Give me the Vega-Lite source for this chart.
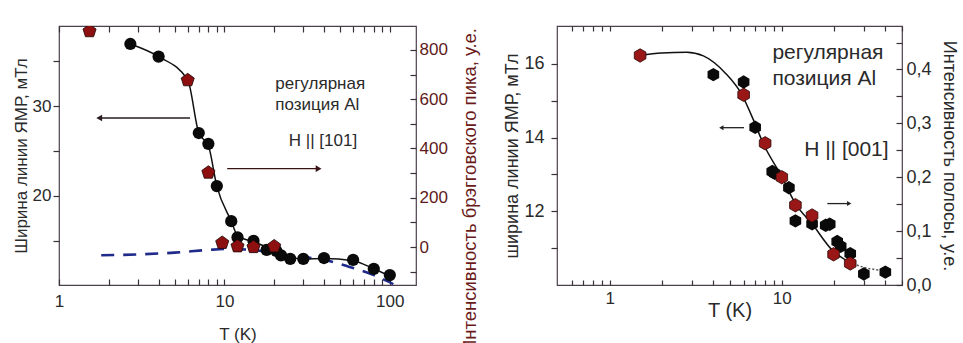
{
  "$schema": "https://vega.github.io/schema/vega-lite/v6.json",
  "autosize": {"type": "pad"},
  "padding": {"left": 11, "top": 24, "right": 0, "bottom": 0},
  "background": "white",
  "bounds": "flush",
  "spacing": 141,
  "config": {
    "font": "Liberation Sans",
    "view": {"stroke": "#4d404d", "strokeWidth": 1.2},
    "scale": {"zero": false},
    "axis": {
      "grid": false,
      "domain": false,
      "labelFont": "Liberation Sans",
      "titleFont": "Liberation Sans",
      "labelFontSize": 17,
      "titleFontSize": 17,
      "titleFontWeight": "normal",
      "labelColor": "#2a2a2a",
      "titleColor": "#2a2a2a",
      "tickColor": "#3a303a",
      "tickWidth": 1.2,
      "labelOverlap": false,
      "labelFlush": false
    }
  },
  "datasets": {
    "left_circles": [
      {"T": 2.7, "W": 36.9}, {"T": 4.0, "W": 35.5}, {"T": 7.0, "W": 27.0},
      {"T": 8.0, "W": 25.8}, {"T": 9.0, "W": 21.1}, {"T": 11.0, "W": 17.2},
      {"T": 12.0, "W": 15.4}, {"T": 15.0, "W": 15.0}, {"T": 18.0, "W": 14.0},
      {"T": 20.6, "W": 13.9}, {"T": 22.0, "W": 13.4}, {"T": 25.0, "W": 13.0},
      {"T": 30.0, "W": 13.0}, {"T": 40.0, "W": 13.1}, {"T": 60.0, "W": 12.9},
      {"T": 80.0, "W": 11.9}, {"T": 100.0, "W": 11.2}
    ],
    "left_fit": [
      {"T": 2.7, "W": 36.9}, {"T": 4.0, "W": 35.5}, {"T": 6.0, "W": 32.9},
      {"T": 7.0, "W": 27.0}, {"T": 8.0, "W": 25.6}, {"T": 9.0, "W": 21.1},
      {"T": 11.0, "W": 17.2}, {"T": 12.0, "W": 15.6}, {"T": 15.0, "W": 14.9},
      {"T": 20.0, "W": 14.0}, {"T": 25.0, "W": 13.2}, {"T": 30.0, "W": 13.0},
      {"T": 40.0, "W": 13.05}, {"T": 60.0, "W": 12.8}, {"T": 80.0, "W": 11.9},
      {"T": 100.0, "W": 11.1}
    ],
    "left_dashed": [
      {"T": 1.8, "W": 13.4}, {"T": 3.0, "W": 13.5}, {"T": 5.0, "W": 13.7},
      {"T": 8.0, "W": 14.0}, {"T": 10.0, "W": 14.1}, {"T": 15.0, "W": 14.0},
      {"T": 20.0, "W": 13.6}, {"T": 30.0, "W": 13.2}, {"T": 40.0, "W": 12.9},
      {"T": 55.0, "W": 12.2}, {"T": 80.0, "W": 11.2}, {"T": 105.0, "W": 10.2}
    ],
    "left_bragg": [
      {"T": 1.53, "I": 876}, {"T": 6.0, "I": 677}, {"T": 8.0, "I": 302},
      {"T": 9.7, "I": 17}, {"T": 12.0, "I": 3}, {"T": 15.0, "I": 0},
      {"T": 20.0, "I": 3}
    ],
    "left_arrows": [
      {"T": 6.2, "T2": 1.75, "W": 28.67, "dir": "left", "axis": "width"},
      {"T": 10.4, "T2": 37.1, "W": 23.03, "dir": "right", "axis": "intensity"}
    ],
    "left_notes": [
      {"T": 20.3, "W": 32.48, "text": "регулярная"},
      {"T": 20.3, "W": 30.15, "text": "позиция Al"},
      {"T": 24.5, "W": 26.07, "text": "H || [101]"}
    ],
    "right_black": [
      {"T": 4.0, "W": 15.71}, {"T": 6.0, "W": 15.51}, {"T": 7.0, "W": 14.28},
      {"T": 8.8, "W": 13.08}, {"T": 9.1, "W": 13.03}, {"T": 11.0, "W": 12.64},
      {"T": 12.0, "W": 11.74}, {"T": 15.0, "W": 11.66}, {"T": 18.0, "W": 11.62},
      {"T": 19.0, "W": 11.65}, {"T": 21.0, "W": 11.18}, {"T": 22.0, "W": 11.05},
      {"T": 25.0, "W": 10.85}, {"T": 30.0, "W": 10.3}, {"T": 40.0, "W": 10.35}
    ],
    "right_fit": [
      {"T": 1.5, "W": 16.23}, {"T": 2.0, "W": 16.3}, {"T": 2.8, "W": 16.32},
      {"T": 3.5, "W": 16.22}, {"T": 4.7, "W": 15.75}, {"T": 5.8, "W": 15.2},
      {"T": 6.9, "W": 14.44}, {"T": 7.8, "W": 13.84}, {"T": 10.0, "W": 12.94},
      {"T": 12.0, "W": 12.21}, {"T": 15.0, "W": 11.66}, {"T": 19.7, "W": 10.94},
      {"T": 24.7, "W": 10.62}
    ],
    "right_tail": [
      {"T": 24.7, "W": 10.62}, {"T": 30.0, "W": 10.48}, {"T": 40.0, "W": 10.39}
    ],
    "right_band": [
      {"T": 1.5, "I": 0.426}, {"T": 6.0, "I": 0.353}, {"T": 8.0, "I": 0.263},
      {"T": 10.0, "I": 0.2}, {"T": 12.0, "I": 0.148}, {"T": 15.0, "I": 0.129},
      {"T": 20.0, "I": 0.057}, {"T": 25.0, "I": 0.04}
    ],
    "right_arrows": [
      {"T": 6.03, "T2": 4.45, "W": 14.27, "dir": "left", "axis": "width"},
      {"T": 18.4, "T2": 24.66, "W": 12.21, "dir": "right", "axis": "intensity"}
    ],
    "right_notes": [
      {"T": 8.82, "W": 16.3, "text": "регулярная"},
      {"T": 8.82, "W": 15.59, "text": "позиция Al"},
      {"T": 13.49, "W": 13.66, "text": "H || [001]"}
    ]
  },
  "hconcat": [
    {
      "width": 357,
      "height": 259,
      "resolve": {"scale": {"y": "independent"}, "axis": {"y": "independent", "x": "independent"}},
      "layer": [
        {
          "layer": [
            {
              "data": {"name": "left_dashed"},
              "mark": {"type": "line", "color": "#1f2a8a", "strokeWidth": 2.6, "strokeDash": [13, 9], "interpolate": "monotone"},
              "encoding": {
                "x": {
                  "field": "T", "type": "quantitative",
                  "scale": {"type": "log", "domain": [1, 144], "nice": false},
                  "axis": {
                    "orient": "bottom", "title": "T (K)", "tickSize": -6, "labelPadding": 14, "titlePadding": 17,
                    "values": [1, 2, 3, 4, 5, 6, 7, 8, 9, 10, 20, 30, 40, 50, 60, 70, 80, 90, 100],
                    "labelExpr": "datum.value == 1 || datum.value == 10 || datum.value == 100 ? '' + datum.value : ''"
                  }
                },
                "y": {
                  "field": "W", "type": "quantitative",
                  "scale": {"domain": [10.1, 38.9], "nice": false},
                  "axis": {
                    "orient": "left", "title": "Ширина линии ЯМР, мТл", "tickSize": 6, "titlePadding": 2,
                    "values": [15, 20, 25, 30, 35],
                    "labelExpr": "datum.value % 10 == 0 ? datum.label : ''"
                  }
                }
              }
            },
            {
              "data": {"name": "left_fit"},
              "mark": {"type": "line", "color": "#111111", "strokeWidth": 1.5, "interpolate": "monotone"},
              "encoding": {
                "x": {"field": "T", "type": "quantitative"},
                "y": {"field": "W", "type": "quantitative"}
              }
            },
            {
              "data": {"name": "left_circles"},
              "mark": {"type": "point", "shape": "circle", "filled": true, "color": "#0a0a0a", "size": 150, "opacity": 1},
              "encoding": {
                "x": {"field": "T", "type": "quantitative"},
                "y": {"field": "W", "type": "quantitative"}
              }
            },
            {
              "data": {"name": "left_arrows"},
              "mark": {"type": "rule", "strokeWidth": 1.3},
              "encoding": {
                "x": {"field": "T", "type": "quantitative"},
                "x2": {"field": "T2"},
                "y": {"field": "W", "type": "quantitative"},
                "color": {"field": "axis", "type": "nominal", "scale": {"domain": ["width", "intensity"], "range": ["#2a1c22", "#3a1414"]}, "legend": null}
              }
            },
            {
              "data": {"name": "left_arrows"},
              "mark": {"type": "point", "filled": true, "size": 45, "opacity": 1},
              "encoding": {
                "x": {"field": "T2", "type": "quantitative"},
                "y": {"field": "W", "type": "quantitative"},
                "shape": {"field": "dir", "type": "nominal", "scale": {"domain": ["left", "right"], "range": ["triangle-left", "triangle-right"]}, "legend": null},
                "color": {"field": "axis", "type": "nominal", "scale": {"domain": ["width", "intensity"], "range": ["#2a1c22", "#a11c1c"]}, "legend": null}
              }
            },
            {
              "data": {"name": "left_notes"},
              "mark": {"type": "text", "align": "left", "baseline": "middle", "fontSize": 17, "color": "#2a2a2a"},
              "encoding": {
                "x": {"field": "T", "type": "quantitative"},
                "y": {"field": "W", "type": "quantitative"},
                "text": {"field": "text"}
              }
            }
          ]
        },
        {
          "layer": [
            {
              "data": {"name": "left_bragg"},
              "mark": {
                "type": "point", "filled": true, "size": 190, "opacity": 1, "clip": true,
                "shape": "M0,-1L0.951,-0.309L0.588,0.809L-0.588,0.809L-0.951,-0.309Z",
                "fill": "#8e0f0f", "stroke": "#1a0505", "strokeWidth": 0.8
              },
              "encoding": {
                "x": {
                  "field": "T", "type": "quantitative",
                  "axis": {
                    "orient": "top", "title": null, "labels": false, "tickSize": -6,
                    "values": [1, 2, 3, 4, 5, 6, 7, 8, 9, 10, 20, 30, 40, 50, 60, 70, 80, 90, 100]
                  }
                },
                "y": {
                  "field": "I", "type": "quantitative",
                  "scale": {"domain": [-154, 897], "nice": false},
                  "axis": {
                    "orient": "right", "title": "Интенсивность брэгговского пика, у.е.", "tickSize": -6,
                    "labelPadding": 9, "titlePadding": 32, "titleAngle": 270, "titleY": 164,
                    "titleFontSize": 18.5,
                    "labelColor": "#5e1a1a", "titleColor": "#6b1a1a",
                    "values": [-100, 0, 100, 200, 300, 400, 500, 600, 700, 800],
                    "labelExpr": "datum.value >= 0 && datum.value % 200 == 0 ? datum.label : ''"
                  }
                }
              }
            }
          ]
        }
      ]
    },
    {
      "width": 345,
      "height": 259,
      "resolve": {"scale": {"y": "independent"}, "axis": {"y": "independent", "x": "independent"}},
      "layer": [
        {
          "layer": [
            {
              "data": {"name": "right_fit"},
              "mark": {"type": "line", "color": "#111111", "strokeWidth": 1.5, "interpolate": "monotone"},
              "encoding": {
                "x": {
                  "field": "T", "type": "quantitative",
                  "scale": {"type": "log", "domain": [0.493, 50], "nice": false},
                  "axis": {
                    "orient": "bottom", "title": "T (K)", "tickSize": -5, "labelPadding": 10, "titlePadding": -6,
                    "titleFontSize": 20,
                    "values": [0.6, 0.7, 0.8, 0.9, 1, 2, 3, 4, 5, 6, 7, 8, 9, 10, 20, 30, 40, 50],
                    "labelExpr": "datum.value == 1 || datum.value == 10 ? '' + datum.value : ''"
                  }
                },
                "y": {
                  "field": "W", "type": "quantitative",
                  "scale": {"domain": [10.0, 17.03], "nice": false},
                  "axis": {
                    "orient": "left", "title": "ширина линии ЯМР, мТл", "tickSize": 6, "labelPadding": 7, "titlePadding": 2,
                    "labelFontSize": 18, "titleFontSize": 18,
                    "values": [11, 12, 13, 14, 15, 16],
                    "labelExpr": "datum.value % 2 == 0 ? datum.label : ''"
                  }
                }
              }
            },
            {
              "data": {"name": "right_tail"},
              "mark": {"type": "line", "color": "#555555", "strokeWidth": 1.5, "strokeDash": [2, 2], "interpolate": "monotone"},
              "encoding": {
                "x": {"field": "T", "type": "quantitative"},
                "y": {"field": "W", "type": "quantitative"}
              }
            },
            {
              "data": {"name": "right_black"},
              "mark": {
                "type": "point", "filled": true, "size": 180, "opacity": 1,
                "shape": "M0,-1L0.866,-0.5L0.866,0.5L0,1L-0.866,0.5L-0.866,-0.5Z",
                "color": "#0a0a0a"
              },
              "encoding": {
                "x": {"field": "T", "type": "quantitative"},
                "y": {"field": "W", "type": "quantitative"}
              }
            },
            {
              "data": {"name": "right_arrows"},
              "mark": {"type": "rule", "strokeWidth": 1.3, "color": "#222222"},
              "encoding": {
                "x": {"field": "T", "type": "quantitative"},
                "x2": {"field": "T2"},
                "y": {"field": "W", "type": "quantitative"}
              }
            },
            {
              "data": {"name": "right_arrows"},
              "mark": {"type": "point", "filled": true, "size": 25, "opacity": 1, "color": "#222222"},
              "encoding": {
                "x": {"field": "T2", "type": "quantitative"},
                "y": {"field": "W", "type": "quantitative"},
                "shape": {"field": "dir", "type": "nominal", "scale": {"domain": ["left", "right"], "range": ["triangle-left", "triangle-right"]}, "legend": null}
              }
            },
            {
              "data": {"name": "right_notes"},
              "mark": {"type": "text", "align": "left", "baseline": "middle", "fontSize": 21, "color": "#2a2a2a"},
              "encoding": {
                "x": {"field": "T", "type": "quantitative"},
                "y": {"field": "W", "type": "quantitative"},
                "text": {"field": "text"}
              }
            }
          ]
        },
        {
          "layer": [
            {
              "data": {"name": "right_band"},
              "mark": {
                "type": "point", "filled": true, "size": 180, "opacity": 1,
                "shape": "M0,-1L0.866,-0.5L0.866,0.5L0,1L-0.866,0.5L-0.866,-0.5Z",
                "fill": "#9a1717", "stroke": "#2a0808", "strokeWidth": 0.8
              },
              "encoding": {
                "x": {
                  "field": "T", "type": "quantitative",
                  "axis": {
                    "orient": "top", "title": null, "labels": false, "tickSize": -5,
                    "values": [0.6, 0.7, 0.8, 0.9, 1, 2, 3, 4, 5, 6, 7, 8, 9, 10, 20, 30, 40, 50]
                  }
                },
                "y": {
                  "field": "I", "type": "quantitative",
                  "scale": {"domain": [0, 0.4807], "nice": false},
                  "axis": {
                    "orient": "right", "title": "Интенсивность полосы, у.е.", "tickSize": -6,
                    "labelPadding": 10, "titlePadding": 8, "titleAngle": 90,
                    "labelFontSize": 18, "titleFontSize": 18,
                    "values": [0, 0.05, 0.1, 0.15, 0.2, 0.25, 0.3, 0.35, 0.4, 0.45],
                    "labelExpr": "abs(datum.value * 10 - round(datum.value * 10)) < 0.001 ? replace(format(datum.value, '.1f'), '.', ',') : ''"
                  }
                }
              }
            }
          ]
        }
      ]
    }
  ]
}
